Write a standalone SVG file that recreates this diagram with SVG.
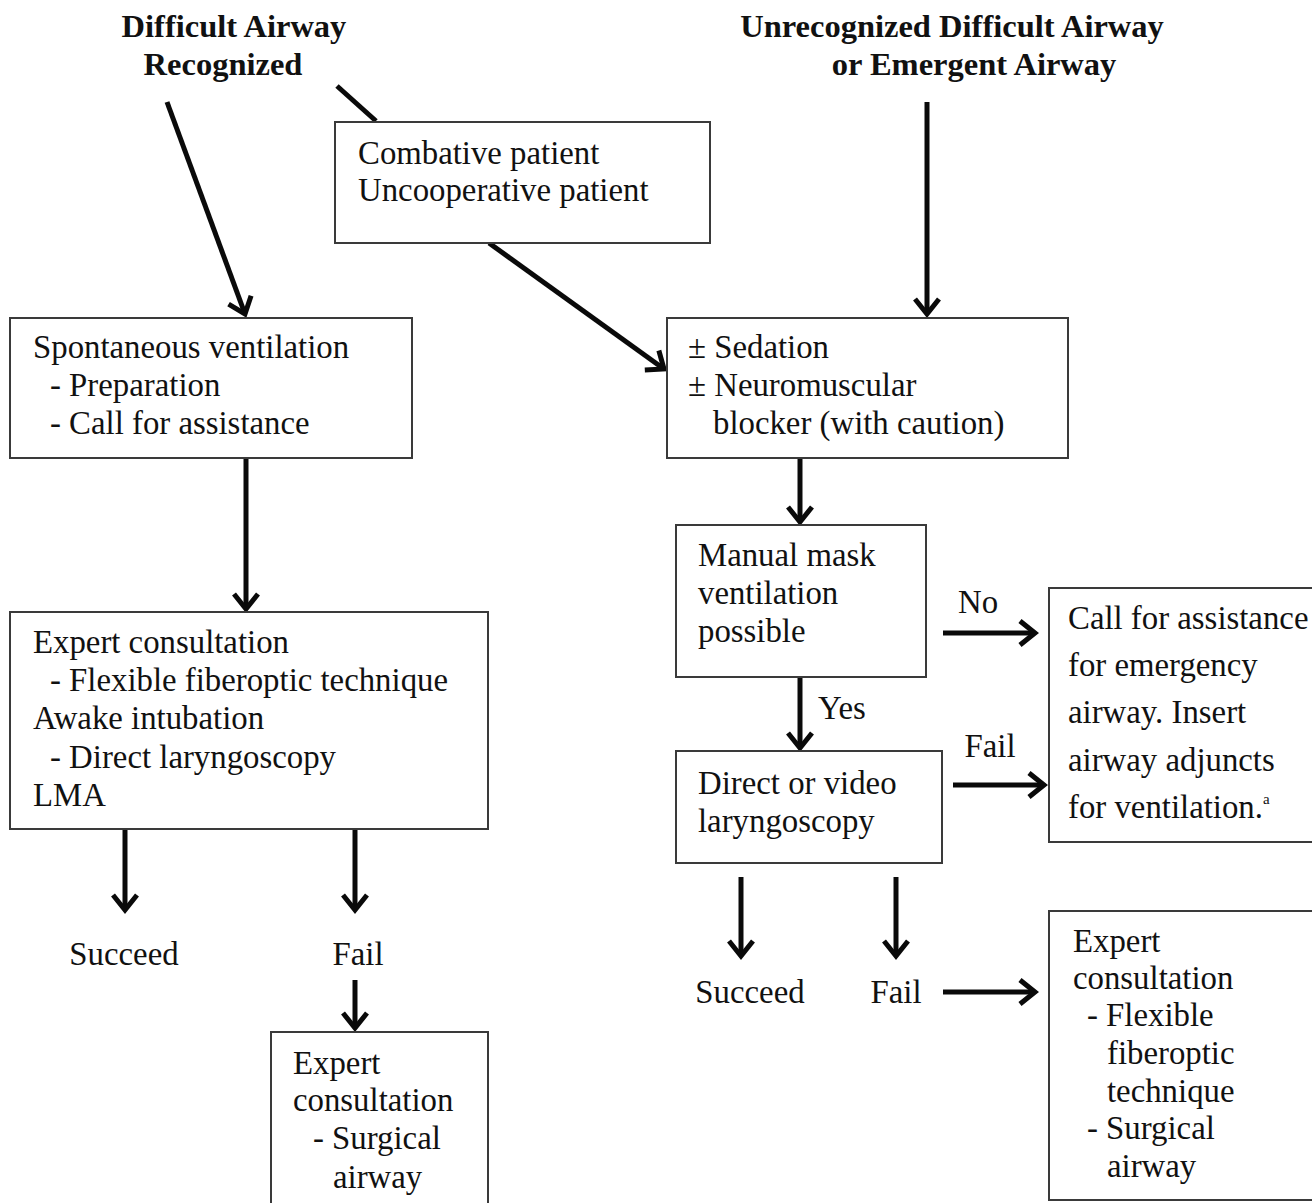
<svg xmlns="http://www.w3.org/2000/svg" width="1312" height="1203" viewBox="0 0 1312 1203">
<style>
.box{fill:#fff;stroke:#3a3a3a;stroke-width:2}
.t{font-family:"Liberation Serif","Times New Roman",serif;font-size:32.8px;fill:#111}
.h{font-family:"Liberation Serif","Times New Roman",serif;font-size:32.5px;font-weight:bold;fill:#111}
.c{fill:none;stroke:#0a0a0a;stroke-width:5}
</style>
<defs>
<marker id="ah" markerUnits="userSpaceOnUse" markerWidth="40" markerHeight="40" viewBox="-20 -20 40 40" refX="0" refY="0" orient="auto">
<path d="M-15,-12 L0,0 L-15,12" fill="none" stroke="#0a0a0a" stroke-width="5" stroke-linejoin="miter"/>
</marker>
</defs>
<rect width="1312" height="1203" fill="#fff"/>

<g id="hdr1">
<text class="h" x="234" y="37" text-anchor="middle">Difficult Airway</text>
<text class="h" x="223" y="75" text-anchor="middle">Recognized</text>
</g>
<g id="hdr2">
<text class="h" x="952" y="37" text-anchor="middle">Unrecognized Difficult Airway</text>
<text class="h" x="974" y="75" text-anchor="middle">or Emergent Airway</text>
</g>

<g id="connectors">
<line class="c" x1="337" y1="86" x2="376" y2="121"/>
<line class="c" x1="167" y1="102" x2="245" y2="314" marker-end="url(#ah)"/>
<line class="c" x1="489" y1="243" x2="664" y2="369" marker-end="url(#ah)"/>
<line class="c" x1="927" y1="102" x2="927" y2="314" marker-end="url(#ah)"/>
<line class="c" x1="246" y1="458" x2="246" y2="609" marker-end="url(#ah)"/>
<line class="c" x1="800" y1="458" x2="800" y2="522" marker-end="url(#ah)"/>
<line class="c" x1="943" y1="633" x2="1035" y2="633" marker-end="url(#ah)"/>
<line class="c" x1="800" y1="677" x2="800" y2="748" marker-end="url(#ah)"/>
<line class="c" x1="953" y1="785" x2="1044" y2="785" marker-end="url(#ah)"/>
<line class="c" x1="125" y1="829" x2="125" y2="910" marker-end="url(#ah)"/>
<line class="c" x1="355" y1="829" x2="355" y2="910" marker-end="url(#ah)"/>
<line class="c" x1="355" y1="980" x2="355" y2="1028" marker-end="url(#ah)"/>
<line class="c" x1="741" y1="877" x2="741" y2="956" marker-end="url(#ah)"/>
<line class="c" x1="896" y1="877" x2="896" y2="956" marker-end="url(#ah)"/>
<line class="c" x1="943" y1="992" x2="1035" y2="992" marker-end="url(#ah)"/>
<text class="t" x="978" y="613" text-anchor="middle">No</text>
<text class="t" x="818" y="719">Yes</text>
<text class="t" x="990" y="757" text-anchor="middle">Fail</text>
</g>

<g id="combative">
<rect class="box" x="335" y="122" width="375" height="121"/>
<text class="t" x="358" y="164">Combative patient</text>
<text class="t" x="358" y="201">Uncooperative patient</text>
</g>

<g id="spontaneous">
<rect class="box" x="10" y="318" width="402" height="140"/>
<text class="t" x="33" y="358">Spontaneous ventilation</text>
<text class="t" x="50" y="396">- Preparation</text>
<text class="t" x="50" y="434">- Call for assistance</text>
</g>

<g id="sedation">
<rect class="box" x="667" y="318" width="401" height="140"/>
<text class="t" x="688" y="358">± Sedation</text>
<text class="t" x="688" y="396">± Neuromuscular</text>
<text class="t" x="713" y="434">blocker (with caution)</text>
</g>

<g id="expert1">
<rect class="box" x="10" y="612" width="478" height="217"/>
<text class="t" x="33" y="653">Expert consultation</text>
<text class="t" x="50" y="691">- Flexible fiberoptic technique</text>
<text class="t" x="33" y="729">Awake intubation</text>
<text class="t" x="50" y="768">- Direct laryngoscopy</text>
<text class="t" x="33" y="806">LMA</text>
</g>

<g id="mask">
<rect class="box" x="676" y="525" width="250" height="152"/>
<text class="t" x="698" y="566">Manual mask</text>
<text class="t" x="698" y="604">ventilation</text>
<text class="t" x="698" y="642">possible</text>
</g>

<g id="callassist">
<rect class="box" x="1049" y="588" width="270" height="254"/>
<text class="t" x="1068" y="629">Call for assistance</text>
<text class="t" x="1068" y="676">for emergency</text>
<text class="t" x="1068" y="723">airway. Insert</text>
<text class="t" x="1068" y="771">airway adjuncts</text>
<text class="t" x="1068" y="818">for ventilation.<tspan font-size="15" dy="-14">a</tspan></text>
</g>

<g id="direct">
<rect class="box" x="676" y="751" width="266" height="112"/>
<text class="t" x="698" y="794">Direct or video</text>
<text class="t" x="698" y="832">laryngoscopy</text>
</g>

<g id="succeed1"><text class="t" x="124" y="965" text-anchor="middle">Succeed</text></g>
<g id="fail1"><text class="t" x="358" y="965" text-anchor="middle">Fail</text></g>
<g id="succeed2"><text class="t" x="750" y="1003" text-anchor="middle">Succeed</text></g>
<g id="fail2"><text class="t" x="896" y="1003" text-anchor="middle">Fail</text></g>

<g id="expert2">
<rect class="box" x="271" y="1032" width="217" height="180"/>
<text class="t" x="293" y="1074">Expert</text>
<text class="t" x="293" y="1111">consultation</text>
<text class="t" x="313" y="1149">- Surgical</text>
<text class="t" x="333" y="1188">airway</text>
</g>

<g id="expert3">
<rect class="box" x="1049" y="911" width="270" height="289"/>
<text class="t" x="1073" y="952">Expert</text>
<text class="t" x="1073" y="989">consultation</text>
<text class="t" x="1087" y="1026">- Flexible</text>
<text class="t" x="1107" y="1064">fiberoptic</text>
<text class="t" x="1107" y="1102">technique</text>
<text class="t" x="1087" y="1139">- Surgical</text>
<text class="t" x="1107" y="1177">airway</text>
</g>
</svg>
